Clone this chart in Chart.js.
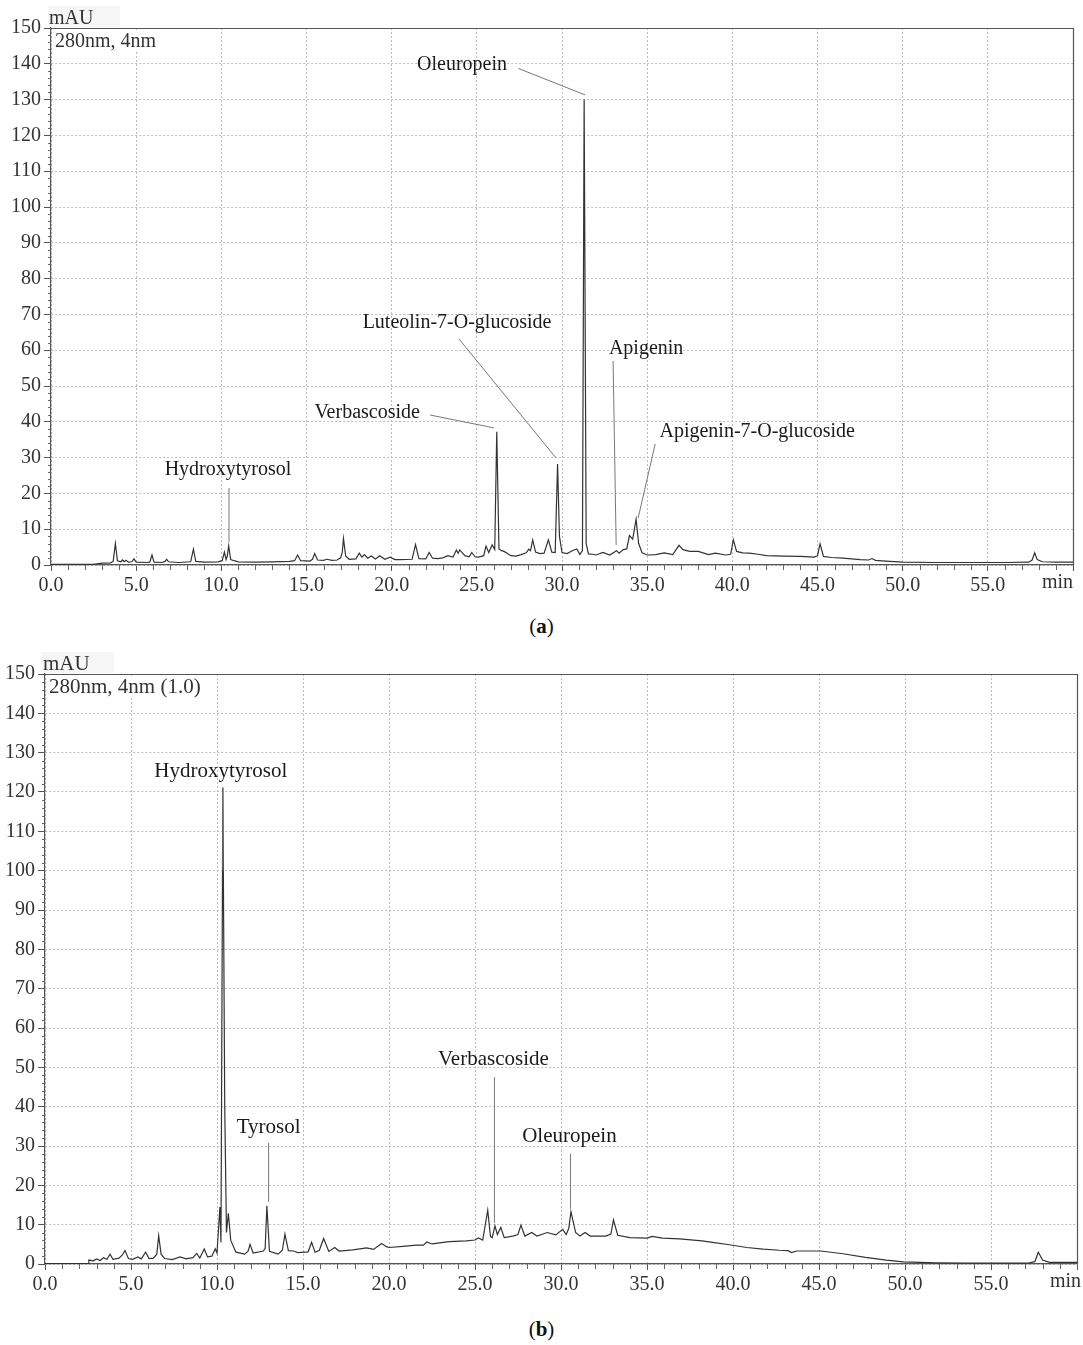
<!DOCTYPE html>
<html><head><meta charset="utf-8">
<script src="https://cdn.jsdelivr.net/npm/chart.js@4.4.1/dist/chart.umd.min.js"></script>
<style>
html,body{margin:0;padding:0;background:#fff;}
body{width:1083px;height:1345px;position:relative;overflow:hidden;font-family:'Liberation Serif',serif;}
#wa{position:absolute;left:0;top:0;width:1083px;height:600px;}
#wb{position:absolute;left:0;top:640px;width:1083px;height:659px;}
.cap{position:absolute;left:0;width:1083px;text-align:center;font-size:21px;color:#111;font-family:'Liberation Serif',serif;}
</style></head><body>
<div id="wa"><canvas id="ca"></canvas></div>
<div id="wb"><canvas id="cb"></canvas></div>
<div class="cap" style="top:614px">(<b>a</b>)</div>
<div class="cap" style="top:1317px">(<b>b</b>)</div>
<script>
// ---------- DATA ----------
const xTicks = [0,5,10,15,20,25,30,35,40,45,50,55,60];
const yTicks = [0,10,20,30,40,50,60,70,80,90,100,110,120,130,140,150];

// Chromatogram (a): retention time (min) and absorbance (mAU)
const timeA = [0,2.5,3.0,3.5,3.65,3.78,3.9,4.1,4.2,4.3,
  4.4,4.55,4.75,4.87,5.0,5.6,5.8,5.93,6.05,6.5,
  6.7,6.79,6.9,7.5,8.2,8.36,8.5,9.0,9.8,10.05,
  10.18,10.28,10.35,10.43,10.55,10.75,11.0,12.0,13.0,14.0,
  14.3,14.48,14.65,15.2,15.35,15.48,15.65,16.0,16.2,16.5,
  16.8,17.0,17.1,17.17,17.3,17.5,17.9,18.1,18.25,18.4,
  18.6,18.8,19.05,19.3,19.6,19.9,20.2,20.5,21.2,21.4,
  21.6,22.0,22.2,22.4,22.7,23.0,23.3,23.6,23.8,23.9,
  24.0,24.3,24.55,24.7,24.9,25.1,25.4,25.54,25.7,25.9,
  26.05,26.17,26.3,26.45,26.6,27.0,27.3,27.6,27.9,28.05,
  28.15,28.28,28.45,28.7,28.95,29.2,29.4,29.6,29.74,29.85,
  30.0,30.3,30.6,30.87,31.05,31.2,31.3,31.42,31.55,31.8,
  32.0,32.4,32.8,33.2,33.35,33.6,33.8,33.96,34.15,34.35,
  34.5,34.7,35.0,35.5,36.0,36.5,36.87,37.1,37.5,38.0,
  38.6,39.0,39.6,39.9,40.06,40.25,40.6,41.0,41.5,42.0,
  43.0,44.0,44.8,45.0,45.15,45.35,45.8,46.5,47.5,48.0,
  48.2,48.4,49.0,50.0,52.0,54.0,56.0,57.4,57.6,57.75,
  57.9,58.2,59.0,60.0];
const absA = [0.2,0.2,0.5,0.6,1.0,6.0,1.2,0.9,1.4,0.9,
  1.3,0.8,0.9,1.7,0.8,0.7,0.8,2.8,0.8,0.7,
  1.0,1.6,0.9,0.7,0.9,4.4,1.0,0.8,0.9,1.2,
  3.6,1.5,2.5,5.3,1.5,1.2,0.9,0.8,0.9,1.0,
  1.2,2.8,1.2,1.1,1.6,3.2,1.4,1.3,1.6,1.3,
  1.4,2.0,3.5,7.4,2.5,1.6,1.7,3.3,2.2,2.9,
  1.9,2.5,1.7,2.6,1.6,2.2,1.5,1.5,1.6,5.7,
  1.8,1.7,3.5,1.9,1.8,2.0,2.6,2.2,4.2,3.3,
  4.2,2.6,2.3,3.5,2.3,2.2,2.6,5.3,3.5,5.6,
  4.3,37.2,4.5,4.0,3.8,2.6,2.5,2.9,3.4,4.4,
  4.0,7.0,3.6,3.2,3.3,7.0,3.6,3.5,28.2,8.0,
  3.5,3.2,4.0,4.5,2.9,4.0,130.0,6.0,3.1,3.0,
  2.8,3.5,2.8,4.0,3.3,4.3,4.5,8.2,7.2,12.8,
  6.0,3.4,2.8,2.9,3.4,2.9,5.5,4.3,3.8,3.8,
  2.9,3.3,2.8,3.0,7.0,3.8,3.4,3.3,3.0,2.6,
  2.5,2.4,2.2,2.6,5.9,2.4,2.1,1.9,1.5,1.4,
  1.8,1.3,1.1,0.8,0.7,0.7,0.7,0.8,1.4,3.4,
  1.5,0.9,0.8,0.8];

// Chromatogram (b)
const timeB = [0,2.5,2.55,2.8,3.0,3.2,3.4,3.6,3.78,3.95,
  4.3,4.5,4.65,4.85,5.1,5.4,5.6,5.85,6.05,6.3,
  6.5,6.61,6.75,6.95,7.4,7.85,8.2,8.6,8.82,9.0,
  9.26,9.45,9.7,9.9,10.0,10.17,10.23,10.34,10.45,10.55,
  10.66,10.8,11.1,11.6,11.8,11.92,12.1,12.7,12.8,12.9,
  13.05,13.55,13.8,13.95,14.15,14.45,14.7,15.3,15.5,15.7,
  15.95,16.2,16.5,16.85,17.1,17.9,18.7,19.1,19.57,19.85,
  20.0,20.8,21.6,22.0,22.2,22.5,23.5,24.5,25.0,25.2,
  25.45,25.74,25.9,26.0,26.16,26.3,26.5,26.7,27.2,27.5,
  27.67,27.9,28.3,28.6,29.2,29.7,30.1,30.3,30.45,30.58,
  30.85,31.1,31.4,31.7,32.6,32.9,33.05,33.3,34.0,35.0,
  35.3,35.9,36.9,38.2,38.8,39.8,40.8,41.75,42.7,43.2,
  43.4,43.7,45.1,46.4,47.7,48.9,49.9,51.8,53.6,57.1,
  57.55,57.75,58.0,58.4,60.0];
const absB = [0.1,0.1,1.0,0.8,1.3,0.9,1.6,1.2,2.5,1.2,
  1.5,2.3,3.4,1.4,1.2,1.8,1.3,3.0,1.4,1.5,
  2.5,7.2,2.5,1.4,1.1,1.8,1.3,1.6,2.7,1.5,
  3.8,1.8,2.0,3.9,2.8,14.5,5.5,121.0,40.0,8.0,
  12.9,6.0,3.0,2.5,3.2,5.0,2.8,3.3,4.0,14.8,
  3.2,2.5,3.5,7.6,3.4,3.3,2.9,3.1,5.5,3.0,
  3.5,6.5,3.2,4.2,3.3,3.6,4.1,3.7,5.2,4.4,
  4.2,4.5,4.8,4.8,5.6,5.1,5.7,5.9,6.1,6.6,
  6.1,13.7,7.0,6.7,9.7,7.5,9.3,6.7,7.1,7.5,
  9.9,7.1,8.0,7.1,8.0,7.4,8.8,7.5,9.0,13.3,
  8.0,7.1,8.0,7.1,7.1,7.6,11.2,7.3,6.7,6.6,
  7.0,6.6,6.4,5.9,5.5,4.9,4.2,3.8,3.5,3.4,
  2.9,3.3,3.3,2.6,1.7,1.0,0.55,0.3,0.2,0.2,
  0.6,3.0,1.0,0.4,0.4];

// Peak annotations (text anchor and leader line, in data units)
const peakNamesA = ['Hydroxytyrosol','Verbascoside','Luteolin-7-O-glucoside','Oleuropein','Apigenin','Apigenin-7-O-glucoside'];
const labelPosA  = [[10.39,26.5],[18.56,42.5],[23.84,67.6],[24.13,139.7],[34.94,60.3],[41.46,37.2]];
const leaderA    = [[10.45,21.5,10.45,6.4],[22.25,41.9,26.0,38.3],[23.96,63.1,29.65,29.9],[27.44,138.7,31.36,131.3],[33.0,57.0,33.18,5.6],[35.47,33.8,34.47,13.1]];
const peakNamesB = ['Hydroxytyrosol','Tyrosol','Verbascoside','Oleuropein'];
const labelPosB  = [[10.22,125.1],[13.0,34.6],[26.07,52.1],[30.49,32.3]];
const leaderB    = [[10.34,121.3,10.34,100],[13.0,30.8,13.0,15.8],[26.13,47.5,26.13,10.4],[30.55,28.0,30.55,14.0]];

const unitY = 'mAU';
const unitX = 'min';
const channelA = '280nm, 4nm';
const channelB = '280nm, 4nm (1.0)';

// ---------- RENDER ----------
const FONT = "'Liberation Serif', 'Times New Roman', serif";

const deco = {
  id: 'deco',
  afterDraw(chart, args, o) {
    const {ctx, chartArea: a, scales: {x, y}} = chart;
    ctx.save();
    // frame top & right
    ctx.strokeStyle = '#555'; ctx.lineWidth = 1.2;
    ctx.beginPath();
    ctx.moveTo(a.left, a.top + 0.5); ctx.lineTo(a.right + 0.5, a.top + 0.5); ctx.lineTo(a.right + 0.5, a.bottom);
    ctx.stroke();
    // minor ticks
    ctx.lineWidth = 1; ctx.strokeStyle = '#666';
    ctx.beginPath();
    for (let v = 0; v <= 150; v += 2) {
      if (v % 10 === 0) continue;
      const py = Math.round(y.getPixelForValue(v)) + 0.5;
      ctx.moveTo(a.left - 3, py); ctx.lineTo(a.left, py);
    }
    for (let t = 0; t <= 60; t += 1) {
      if (t % 5 === 0) continue;
      const px = Math.round(x.getPixelForValue(t)) + 0.5;
      ctx.moveTo(px, a.bottom); ctx.lineTo(px, a.bottom + 5);
    }
    ctx.stroke();
    // unit labels
    ctx.fillStyle = '#f6f6f6';
    ctx.fillRect(a.left - 3, a.top - 22, 72, 21);
    ctx.fillStyle = '#fff';
    ctx.fillRect(a.left + 2, a.top + 2, o.chW, 21);
    ctx.fillStyle = '#333';
    ctx.font = o.fs + 'px ' + FONT;
    ctx.textAlign = 'left'; ctx.textBaseline = 'alphabetic';
    ctx.fillText(unitY, a.left - 2, a.top - 4);
    ctx.fillText(o.channel, a.left + 4, a.top + 19);
    ctx.textAlign = 'right'; ctx.textBaseline = 'middle';
    ctx.font = '20px ' + FONT;
    ctx.fillText(unitX, x.getPixelForValue(60) + o.minDx, a.bottom + 18);
    // leaders
    ctx.strokeStyle = '#777'; ctx.lineWidth = 1;
    o.leaders.forEach(l => {
      ctx.beginPath();
      ctx.moveTo(x.getPixelForValue(l[0]), y.getPixelForValue(l[1]));
      ctx.lineTo(x.getPixelForValue(l[2]), y.getPixelForValue(l[3]));
      ctx.stroke();
    });
    // labels
    ctx.fillStyle = '#1a1a1a';
    ctx.textAlign = 'center'; ctx.textBaseline = 'middle';
    ctx.font = o.fs + 'px ' + FONT;
    o.names.forEach((n, i) => {
      ctx.fillText(n, x.getPixelForValue(o.pos[i][0]), y.getPixelForValue(o.pos[i][1]));
    });
    ctx.restore();
  }
};

function makeChart(id, times, vals, cfg) {
  const pts = times.map((t, i) => ({x: t, y: vals[i]}));
  return new Chart(document.getElementById(id), {
    type: 'line',
    data: {datasets: [{data: pts, borderColor: '#333', borderWidth: 1.2, pointRadius: 0, tension: 0, fill: false}]},
    options: {
      responsive: true, maintainAspectRatio: false, animation: false, devicePixelRatio: 1,
      layout: {padding: {top: cfg.top, right: cfg.right, left: 0, bottom: 0}},
      plugins: {legend: {display: false}, tooltip: {enabled: false},
        deco: {channel: cfg.channel, chW: cfg.chW, fs: cfg.fs, names: cfg.names, pos: cfg.pos, leaders: cfg.leaders, minDx: cfg.minDx}},
      scales: {
        x: {type: 'linear', min: 0, max: 60,
          afterFit: s => { s.height = 35; },
          afterBuildTicks: s => { s.ticks = xTicks.map(v => ({value: v})); },
          ticks: {font: {family: FONT, size: 20}, color: '#333', padding: 3, maxRotation: 0, autoSkip: false,
            callback: v => v === 60 ? '' : v.toFixed(1)},
          grid: {color: '#bdbdbd', lineWidth: 1, tickColor: '#555', tickLength: 6},
          border: {display: true, color: '#555', width: 1.2, dash: [2, 2]}
        },
        y: {type: 'linear', min: 0, max: 150,
          afterFit: s => { s.width = cfg.left; },
          afterBuildTicks: s => { s.ticks = yTicks.map(v => ({value: v})); },
          ticks: {font: {family: FONT, size: 20}, color: '#333', padding: 3, autoSkip: false},
          grid: {color: '#bdbdbd', lineWidth: 1, tickColor: '#555', tickLength: 7},
          border: {display: true, color: '#555', width: 1.2, dash: [2, 2]}
        }
      }
    },
    plugins: [deco]
  });
}

makeChart('ca', timeA, absA, {top: 28, right: 10, left: 51, channel: channelA, chW: 112, fs: 20,
  names: peakNamesA, pos: labelPosA, leaders: leaderA, minDx: 0});
makeChart('cb', timeB, absB, {top: 34, right: 6, left: 45, channel: channelB, chW: 166, fs: 21,
  names: peakNamesB, pos: labelPosB, leaders: leaderB, minDx: 4});
</script>
</body></html>
